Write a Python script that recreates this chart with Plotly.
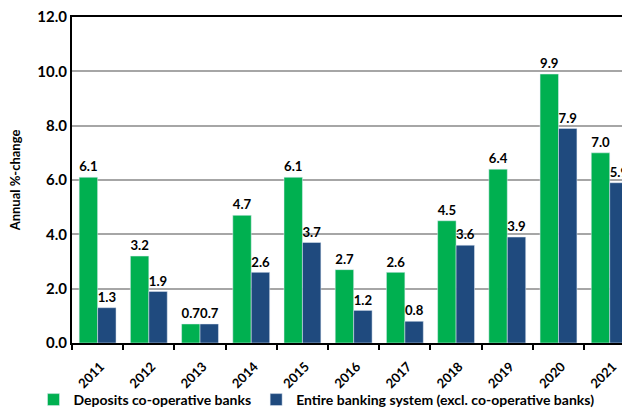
import plotly.graph_objects as go

years = ["2011", "2012", "2013", "2014", "2015", "2016", "2017", "2018", "2019", "2020", "2021"]
coop = [6.1, 3.2, 0.7, 4.7, 6.1, 2.7, 2.6, 4.5, 6.4, 9.9, 7.0]
entire = [1.3, 1.9, 0.7, 2.6, 3.7, 1.2, 0.8, 3.6, 3.9, 7.9, 5.9]
y_ticks = [0, 2, 4, 6, 8, 10, 12]

FONT = "Lato"
xcats = [f"<b>{y}</b>" for y in years]
fig = go.Figure()
fig.add_bar(x=xcats, y=coop, name="<b>Deposits co-operative banks</b>",
            marker_color="#00B050", text=[f"<b>{v:.1f}</b>" for v in coop],
            textposition="outside", textfont=dict(size=14, color="black", family=FONT),
            cliponaxis=False)
fig.add_bar(x=xcats, y=entire, name="<b>Entire banking system (excl. co-operative banks)</b>",
            marker_color="#1F4A7E", text=[f"<b>{v:.1f}</b>" for v in entire],
            textposition="outside", textfont=dict(size=14, color="black", family=FONT),
            cliponaxis=False)
# invisible helper trace on a numeric overlay axis that carries the boundary tick marks
idx = list(range(len(years)))
fig.add_scatter(x=idx, y=coop, xaxis="x2", mode="markers", marker=dict(opacity=0),
                showlegend=False, hoverinfo="skip")

xrange = [-0.5, 10.24]
boundaries = [i - 0.5 for i in range(len(years) + 1)]
fig.update_layout(
    width=622, height=416,
    margin=dict(l=72, r=0, t=17, b=73),
    paper_bgcolor="white", plot_bgcolor="white",
    barmode="group", bargap=0.28, bargroupgap=0,
    font=dict(family=FONT, size=14, color="black"),
    showlegend=True,
    legend=dict(orientation="h", x=-0.07, xanchor="left", y=-0.176, yanchor="middle",
                bgcolor="rgba(0,0,0,0)",
                font=dict(size=14, family=FONT), itemwidth=30, traceorder="normal"),
    xaxis=dict(type="category", categoryorder="array", categoryarray=xcats,
               range=xrange, automargin=False,
               showline=True, linecolor="black", linewidth=2, mirror=True,
               ticks="", tickangle=-45, ticklabelstandoff=9, ticklabelshift=3,
               tickfont=dict(size=13, family=FONT)),
    xaxis2=dict(type="linear", range=xrange, overlaying="x", side="bottom",
                automargin=False, showline=False, showgrid=False, zeroline=False,
                tickmode="array", tickvals=boundaries, ticks="outside", ticklen=6,
                tickwidth=1.5, tickcolor="black", showticklabels=False),
)
fig.update_yaxes(
    range=[0, 12], tickvals=y_ticks, ticktext=[f"<b>{v:.1f}</b>" for v in y_ticks],
    automargin=False,
    showline=True, linecolor="black", linewidth=2,
    showgrid=True, gridcolor="#A6A6A6", gridwidth=1.5,
    ticks="", tickfont=dict(size=15, family=FONT),
    title=dict(text="<b>Annual %-change</b>", font=dict(size=13, family=FONT), standoff=14),
    zeroline=False,
)
fig.write_html("out.html")
